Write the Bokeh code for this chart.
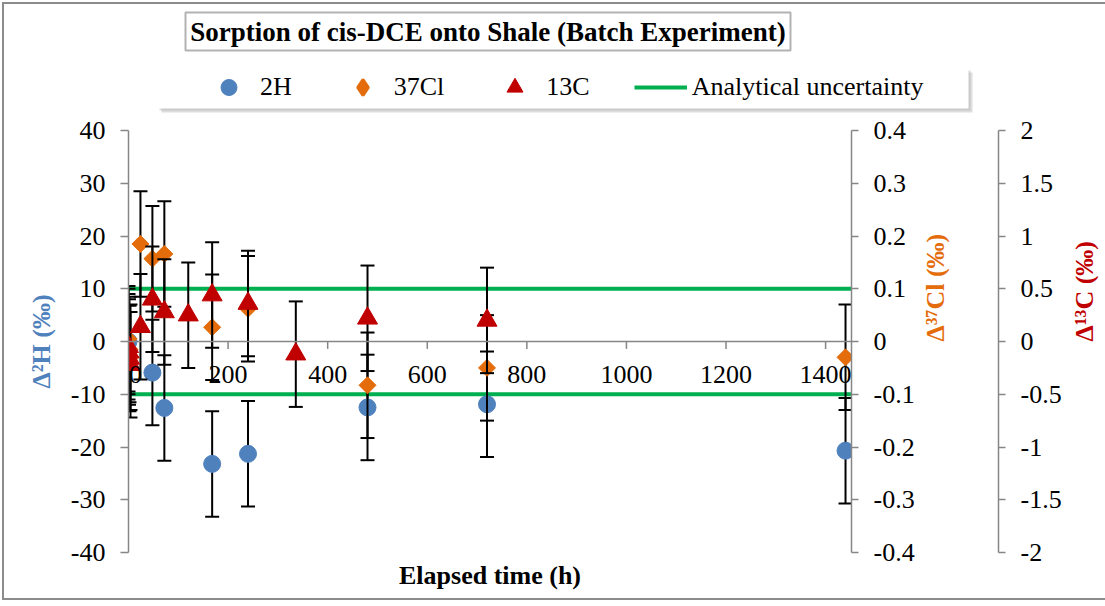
import math
from bokeh.plotting import figure
from bokeh.layouts import column
from bokeh.models import (Range1d, LinearAxis, FixedTicker, Span, LabelSet, Label,
                          Legend, LegendItem, ColumnDataSource, BoxAnnotation)
from bokeh.embed import file_html
from bokeh.resources import INLINE

# ---------------- data ----------------
TITLE = "Sorption of cis-DCE onto Shale (Batch Experiment)"
X_LABEL = "Elapsed time (h)"

h_time = [0, 48, 72, 168, 240, 480, 720, 1440]
h_delta = [0.0, -5.9, -12.6, -23.2, -21.3, -12.5, -11.9, -20.7]
h_err = 10.0

cl_time = [0, 2, 4, 24, 48, 72, 168, 240, 480, 720, 1440]
cl_delta = [0.005, -0.015, -0.03, 0.185, 0.157, 0.166, 0.027, 0.062, -0.083, -0.05, -0.03]
cl_err = 0.1

c_time = [0, 1, 2, 4, 24, 48, 72, 120, 168, 240, 336, 480, 720]
c_delta = [-0.05, -0.10, -0.16, -0.22, 0.14, 0.40, 0.28, 0.25, 0.44, 0.36, -0.12, 0.22, 0.20]
c_err = 0.5

uncertainty_time = [0, 1452]
uncertainty_limit = 10.0  # +/- on the delta-2H axis

series_names = ["2H", "37Cl", "13C", "Analytical uncertainty"]

x_ticks = [0, 200, 400, 600, 800, 1000, 1200, 1400]
x_tick_labels = ["0", "200", "400", "600", "800", "1000", "1200", "1400"]
h_ticks = [-40, -30, -20, -10, 0, 10, 20, 30, 40]
h_tick_labels = ["-40", "-30", "-20", "-10", "0", "10", "20", "30", "40"]
cl_ticks = [-0.4, -0.3, -0.2, -0.1, 0, 0.1, 0.2, 0.3, 0.4]
cl_tick_labels = ["-0.4", "-0.3", "-0.2", "-0.1", "0", "0.1", "0.2", "0.3", "0.4"]
c_ticks = [-2, -1.5, -1, -0.5, 0, 0.5, 1, 1.5, 2]
c_tick_labels = ["-2", "-1.5", "-1", "-0.5", "0", "0.5", "1", "1.5", "2"]

# ---------------- style ----------------
FONT = "Liberation Serif"
FS = "26px"
BLUE = "#4F81BD"
ORANGE = "#E46C0A"
RED = "#C00000"
GREEN = "#00B050"
AXIS_GRAY = "#868686"
TOTAL_W = 1096
HEADER_H = 110
NAN = float("nan")

STYLE_H = dict(marker="circle", size=17, fill_color=BLUE, line_color=BLUE)
STYLE_CL = dict(marker="square", angle=math.pi / 4, size=12, fill_color=ORANGE, line_color=ORANGE)
STYLE_CL_LEGEND = dict(marker="diamond", fill_color=ORANGE, line_color=ORANGE, line_width=3)
STYLE_C = dict(marker="triangle", size=20, fill_color=RED, line_color=RED)
STYLE_UNC = dict(line_color=GREEN, line_width=4)

# ================= header: title + legend =================
hdr = figure(width=TOTAL_W, height=HEADER_H, x_range=Range1d(0, TOTAL_W), y_range=Range1d(0, HEADER_H),
             output_backend="svg", toolbar_location=None, min_border=0,
             x_axis_location=None, y_axis_location=None,
             background_fill_color="white", border_fill_color="white", outline_line_color=None)
hdr.grid.visible = False

hdr.add_layout(BoxAnnotation(left=181, right=786, bottom=64, top=102,
                             fill_color="white", fill_alpha=1, line_color="black", line_width=2))
hdr.add_layout(Label(x=483.5, y=83, text=TITLE, text_align="center", text_baseline="middle",
                     text_font=FONT, text_font_size="27px", text_font_style="bold", text_color="black"))

# legend panel with soft shadow
hdr.add_layout(BoxAnnotation(left=157, right=968, bottom=2, top=42,
                             fill_color="#b4b4b4", fill_alpha=0.45, line_color=None))
hdr.add_layout(BoxAnnotation(left=155, right=966, bottom=4, top=44,
                             fill_color="#b4b4b4", fill_alpha=0.45, line_color=None))
hdr.add_layout(BoxAnnotation(left=153, right=964, bottom=6, top=46,
                             fill_color="white", fill_alpha=1, line_color=None))

lg_h = hdr.scatter(x=[NAN], y=[NAN], **STYLE_H)
lg_cl = hdr.scatter(x=[NAN], y=[NAN], **STYLE_CL_LEGEND)
lg_c = hdr.scatter(x=[NAN], y=[NAN], **STYLE_C)
lg_u = hdr.line(x=[NAN, NAN], y=[NAN, NAN], **STYLE_UNC)
legend = Legend(items=[LegendItem(label=n, renderers=[r])
                       for n, r in zip(series_names, [lg_h, lg_cl, lg_c, lg_u])],
                location=(198, 7), orientation="horizontal",
                glyph_width=53, glyph_height=40, label_standoff=5, spacing=44,
                padding=0, margin=0, border_line_color=None, background_fill_alpha=0,
                label_text_font=FONT, label_text_font_size=FS, label_text_color="black")
hdr.add_layout(legend, "center")

# ================= main chart =================
p = figure(frame_width=723, frame_height=422,
           x_range=Range1d(0, 1452), y_range=Range1d(-40, 40),
           output_backend="svg", toolbar_location=None,
           min_border_left=124, min_border_top=16, min_border_bottom=46, min_border_right=0,
           background_fill_color="white", border_fill_color="white",
           outline_line_color=None)
p.grid.visible = False
p.extra_y_ranges = {"cl": Range1d(-0.4, 0.4), "c": Range1d(-2, 2)}

for fig in (hdr, p):
    try:
        fig.frame_align = False
    except Exception:
        pass

xa = p.xaxis[0]
xa.ticker = FixedTicker(ticks=[])
xa.axis_line_color = None
xa.major_tick_line_color = None
xa.minor_tick_line_color = None
xa.major_tick_out = 0
xa.major_label_standoff = 0
xa.axis_label = X_LABEL
xa.axis_label_standoff = 8
xa.axis_label_text_font = FONT
xa.axis_label_text_font_size = FS
xa.axis_label_text_font_style = "bold"
xa.axis_label_text_color = "black"


def style_axis(ax, ticks, labels, label, color, tick_out=8, label_standoff=15):
    ax.ticker = FixedTicker(ticks=ticks)
    ax.major_label_overrides = {t: l for t, l in zip(ticks, labels)}
    ax.axis_line_color = AXIS_GRAY
    ax.axis_line_width = 1.5
    ax.major_tick_line_color = AXIS_GRAY
    ax.major_tick_line_width = 1.5
    ax.major_tick_out = tick_out
    ax.major_tick_in = 0
    ax.minor_tick_line_color = None
    ax.major_label_standoff = 15
    ax.major_label_text_font = FONT
    ax.major_label_text_font_size = FS
    ax.major_label_text_color = "black"
    ax.axis_label = label
    ax.axis_label_standoff = label_standoff
    ax.axis_label_text_font = FONT
    ax.axis_label_text_font_size = FS
    ax.axis_label_text_font_style = "bold"
    ax.axis_label_text_color = color


style_axis(p.yaxis[0], h_ticks, h_tick_labels, "Δ²H (‰)", BLUE, label_standoff=12)

ax_cl = LinearAxis(y_range_name="cl")
style_axis(ax_cl, cl_ticks, cl_tick_labels, "Δ³⁷Cl (‰)", ORANGE, tick_out=7, label_standoff=18)
p.add_layout(ax_cl, "right")

spacer = LinearAxis(y_range_name="cl", ticker=FixedTicker(ticks=[]))
spacer.axis_line_color = None
spacer.major_tick_line_color = None
spacer.minor_tick_line_color = None
spacer.major_tick_out = 0
spacer.major_label_standoff = 0
spacer.axis_label = " "
spacer.axis_label_text_font_size = "2px"
spacer.axis_label_standoff = 26
p.add_layout(spacer, "right")

ax_c = LinearAxis(y_range_name="c")
style_axis(ax_c, c_ticks, c_tick_labels, "Δ¹³C (‰)", RED, tick_out=7, label_standoff=20)
p.add_layout(ax_c, "right")

for ax in (ax_cl, ax_c):
    try:
        ax.axis_label_orientation = math.pi / 2
    except Exception:
        pass

# x axis drawn at y = 0
p.add_layout(Span(location=0, dimension="width", line_color=AXIS_GRAY, line_width=1.5))
p.segment(x0=x_ticks, y0=[0] * len(x_ticks), x1=x_ticks, y1=[-1.4] * len(x_ticks),
          line_color=AXIS_GRAY, line_width=1.5)
x_label_shift = [7 if t == 0 else 0 for t in x_ticks]
p.add_layout(LabelSet(x="x", y="y", text="t", x_offset="dx",
                      source=ColumnDataSource(dict(x=x_ticks, y=[0] * len(x_ticks),
                                                   t=x_tick_labels, dx=x_label_shift)),
                      text_align="center", text_baseline="alphabetic", y_offset=-41,
                      text_font=FONT, text_font_size=FS, text_color="black"))

# analytical uncertainty
p.line(uncertainty_time, [uncertainty_limit] * 2, **STYLE_UNC)
p.line(uncertainty_time, [-uncertainty_limit] * 2, **STYLE_UNC)


def errbars(t, v, e, rn=None):
    kw = {} if rn is None else {"y_range_name": rn}
    lo = [a - e for a in v]
    hi = [a + e for a in v]
    p.segment(x0=t, y0=lo, x1=t, y1=hi, line_color="black", line_width=2, **kw)
    p.scatter(x=list(t) + list(t), y=lo + hi, marker="dash", size=14,
              line_color="black", line_width=2, **kw)


errbars(h_time, h_delta, h_err)
p.scatter(h_time, h_delta, **STYLE_H)
errbars(cl_time, cl_delta, cl_err, "cl")
p.scatter(cl_time, cl_delta, y_range_name="cl", **STYLE_CL)
errbars(c_time, c_delta, c_err, "c")
p.scatter(c_time, c_delta, y_range_name="c", **STYLE_C)

page = column(hdr, p, spacing=0,
              styles={"border": "2px solid #8c8c8c", "margin": "2px"})

open("out.html", "w").write(file_html(page, INLINE))
